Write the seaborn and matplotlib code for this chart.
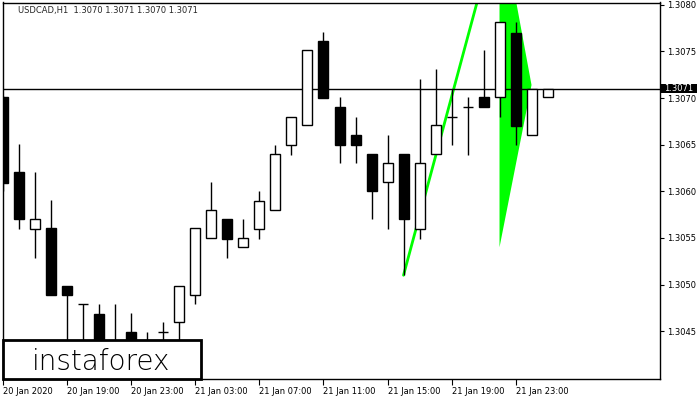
import matplotlib
matplotlib.use('Agg')
import numpy as np
import pandas as pd
import matplotlib.pyplot as plt
import seaborn as sns
from matplotlib.patches import Rectangle, Polygon

# hourly candles, USDCAD H1, 20 Jan 15:00 .. 22 Jan 01:00
opens = [1.30701, 1.30621, 1.30560, 1.30561, 1.30499, 1.30479, 1.30469, 1.30420,
         1.30449, 1.30420, 1.30449, 1.30460, 1.30489, 1.30550, 1.30570, 1.30540,
         1.30560, 1.30580, 1.30650, 1.30671, 1.30761, 1.30690, 1.30660, 1.30640,
         1.30610, 1.30640, 1.30560, 1.30640, 1.30680, 1.30690, 1.30701, 1.30701,
         1.30770, 1.30660, 1.30701]
highs = [1.30702, 1.30651, 1.30621, 1.30591, 1.30499, 1.30479, 1.30479, 1.30479,
         1.30470, 1.30449, 1.30460, 1.30499, 1.30561, 1.30610, 1.30570, 1.30570,
         1.30600, 1.30650, 1.30680, 1.30751, 1.30771, 1.30701, 1.30680, 1.30640,
         1.30660, 1.30640, 1.30720, 1.30731, 1.30710, 1.30701, 1.30751, 1.30781,
         1.30781, 1.30710, 1.30710]
lows = [1.30600, 1.30560, 1.30529, 1.30489, 1.30420, 1.30410, 1.30410, 1.30400,
        1.30400, 1.30410, 1.30420, 1.30420, 1.30479, 1.30550, 1.30529, 1.30540,
        1.30549, 1.30580, 1.30639, 1.30671, 1.30700, 1.30630, 1.30630, 1.30570,
        1.30560, 1.30510, 1.30549, 1.30640, 1.30650, 1.30639, 1.30690, 1.30680,
        1.30650, 1.30660, 1.30701]
closes = [1.30609, 1.30570, 1.30570, 1.30489, 1.30489, 1.30479, 1.30430, 1.30430,
          1.30410, 1.30430, 1.30449, 1.30499, 1.30561, 1.30580, 1.30549, 1.30550,
          1.30590, 1.30640, 1.30680, 1.30751, 1.30700, 1.30650, 1.30650, 1.30600,
          1.30630, 1.30570, 1.30630, 1.30671, 1.30680, 1.30690, 1.30690, 1.30781,
          1.30670, 1.30710, 1.30710]

time_tick_pos = [0, 4, 8, 12, 16, 20, 24, 28, 32]
time_tick_labels = ['20 Jan 2020', '20 Jan 19:00', '20 Jan 23:00', '21 Jan 03:00',
                    '21 Jan 07:00', '21 Jan 11:00', '21 Jan 15:00', '21 Jan 19:00',
                    '21 Jan 23:00']
price_ticks = [1.3045, 1.3050, 1.3055, 1.3060, 1.3065, 1.3070, 1.3075, 1.3080]
last_price = 1.3071
header = 'USDCAD,H1  1.3070 1.3071 1.3070 1.3071'

# bullish flag: pole and pennant
pole_x = [25, 31]
pole_y = [1.30510, 1.30892]
pennant_x = [31, 33, 31]
pennant_y = [1.30900, 1.30714, 1.30540]

df = pd.DataFrame({'open': opens, 'high': highs, 'low': lows, 'close': closes})
df['idx'] = np.arange(len(df))

sns.set_style('white')
plt.rcParams['font.family'] = ['DejaVu Sans']

W, H = 700, 400
fig = plt.figure(figsize=(7, 4), dpi=100)
ax = fig.add_axes([3 / W, 21 / H, 657 / W, 376.5 / H])

# pennant (behind everything)
ax.add_patch(Polygon(list(zip(pennant_x, pennant_y)), closed=True,
                     facecolor='#00ff00', edgecolor='none', zorder=1))
sns.lineplot(x=pole_x, y=pole_y, ax=ax, color='#00ff00', linewidth=2, zorder=1)

ax.axhline(last_price, color='black', linewidth=1, zorder=2)

bw = 0.625
ax.vlines(df['idx'], df['low'], df['high'], color='black', linewidth=1, zorder=3)

doji = (df['close'] - df['open']).abs() < 2e-5
up = (df['close'] > df['open']) & ~doji
down = (df['close'] < df['open']) & ~doji

u = df[up]
ax.bar(u['idx'], u['close'] - u['open'], bottom=u['open'], width=bw,
       facecolor='white', edgecolor='black', linewidth=1, zorder=4)
d = df[down]
ax.bar(d['idx'], d['open'] - d['close'], bottom=d['close'], width=bw,
       facecolor='black', edgecolor='black', linewidth=1, zorder=4)
dj = df[doji]
ax.hlines(dj['open'], dj['idx'] - bw / 2, dj['idx'] + bw / 2,
          color='black', linewidth=1, zorder=4)

ax.set_xlim(-0.03, 41.03)
ax.set_ylim(1.303988, 1.308024)

ax.yaxis.tick_right()
ax.set_yticks(price_ticks)
ax.set_yticklabels([f'{p:.4f}' for p in price_ticks])
ax.tick_params(axis='y', direction='out', length=3, width=0.8, labelsize=6,
               pad=2, colors='black', right=True, left=False)

ax.set_xticks(time_tick_pos)
ax.set_xticklabels(time_tick_labels, ha='left')
ax.tick_params(axis='x', direction='out', length=4, width=0.8, labelsize=6,
               pad=2, colors='black', bottom=True)

for s in ax.spines.values():
    s.set_color('black')
    s.set_linewidth(1)

fig.text(18 / W, 1 - 11 / H, header, fontsize=6, va='center', ha='left')

# current price tag on the right axis
fig.add_artist(Rectangle((661 / W, 1 - 93 / H), 36 / W, 9 / H,
                         transform=fig.transFigure, facecolor='black',
                         edgecolor='none', zorder=10))
fig.text(679 / W, 1 - 88.5 / H, f'{last_price:.4f}', fontsize=6, color='white',
         ha='center', va='center', zorder=11)

# logo box
fig.add_artist(Rectangle((3 / W, 21 / H), 198 / W, 39 / H,
                         transform=fig.transFigure, facecolor='white',
                         edgecolor='black', linewidth=2, zorder=10))
fig.text(101 / W, 1 - 370 / H, 'instaforex', fontsize=20, color='black',
         ha='center', va='baseline', fontweight='light', zorder=11)

fig.savefig('out.png', dpi=100)
